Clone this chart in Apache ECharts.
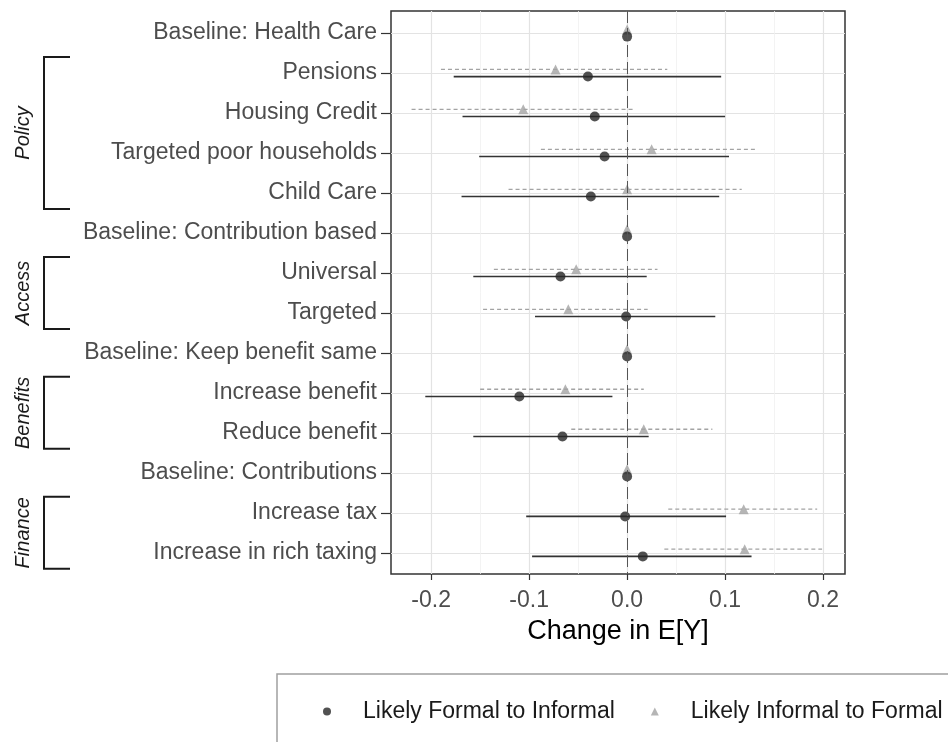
<!DOCTYPE html>
<html>
<head>
<meta charset="utf-8">
<script src="https://cdn.jsdelivr.net/npm/echarts@6/dist/echarts.min.js"></script>
<style>html,body{margin:0;padding:0;background:#fff;}#c{width:948px;height:742px;}</style>
</head>
<body>
<div id="c"></div>
<script>
// ---- data ----
const categories = [
  'Baseline: Health Care', 'Pensions', 'Housing Credit', 'Targeted poor households', 'Child Care',
  'Baseline: Contribution based', 'Universal', 'Targeted',
  'Baseline: Keep benefit same', 'Increase benefit', 'Reduce benefit',
  'Baseline: Contributions', 'Increase tax', 'Increase in rich taxing'
];
const formalEst = [0, -0.040, -0.033, -0.023, -0.037, 0, -0.068, -0.001, 0, -0.110, -0.066, 0, -0.002, 0.016];
const formalLo  = [0, -0.177, -0.168, -0.151, -0.169, 0, -0.157, -0.094, 0, -0.206, -0.157, 0, -0.103, -0.097];
const formalHi  = [0, 0.096, 0.100, 0.104, 0.094, 0, 0.020, 0.090, 0, -0.015, 0.022, 0, 0.101, 0.127];
const informalEst = [0, -0.073, -0.106, 0.025, 0.000, 0, -0.052, -0.060, 0, -0.063, 0.017, 0, 0.119, 0.120];
const informalLo  = [0, -0.190, -0.220, -0.088, -0.121, 0, -0.136, -0.147, 0, -0.150, -0.057, 0, 0.042, 0.038];
const informalHi  = [0, 0.041, 0.006, 0.133, 0.117, 0, 0.031, 0.021, 0, 0.017, 0.087, 0, 0.194, 0.199];
const xTicks = [-0.2, -0.1, 0.0, 0.1, 0.2];
const xMinorTicks = [-0.15, -0.05, 0.05, 0.15];
const groups = [
  { label: 'Policy', first: 1, last: 4 },
  { label: 'Access', first: 6, last: 7 },
  { label: 'Benefits', first: 9, last: 10 },
  { label: 'Finance', first: 12, last: 13 }
];
const seriesNames = ['Likely Formal to Informal', 'Likely Informal to Formal'];
const dodge = 0.09;

// ---- chart ----
const chart = echarts.init(document.getElementById('c'), null, { renderer: 'canvas' });
const FONT = "'Liberation Sans', Arial, sans-serif";
const idx = categories.map((_, i) => i);

function barData(lo, hi, off) {
  return idx.map(i => [lo[i], hi[i], i + off]);
}
function ptData(est, off) {
  return idx.map(i => [est[i], i + off]);
}
function errRender(color, dash, width) {
  return function (params, api) {
    const p1 = api.coord([api.value(0), api.value(2)]);
    const p2 = api.coord([api.value(1), api.value(2)]);
    return {
      type: 'line',
      shape: { x1: p1[0], y1: p1[1], x2: p2[0], y2: p2[1] },
      style: { stroke: color, lineWidth: width, lineDash: dash }
    };
  };
}

const option = {
  animation: false,
  backgroundColor: '#ffffff',
  grid: { left: 391, right: 103, top: 11, bottom: 168, show: true, borderColor: '#333333', borderWidth: 1.5, backgroundColor: 'transparent' },
  xAxis: [{
    type: 'value', min: -0.241, max: 0.2224, position: 'bottom',
    name: 'Change in E[Y]', nameLocation: 'middle', nameGap: 44,
    nameTextStyle: { fontFamily: FONT, fontSize: 27, color: '#000000' },
    axisLine: { show: false, onZero: false },
    axisTick: { show: true, length: 6, customValues: xTicks, lineStyle: { color: '#333333', width: 1.2 } },
    axisLabel: { customValues: xTicks, margin: 15, fontFamily: FONT, fontSize: 23, color: '#4d4d4d',
      formatter: v => Number(v).toFixed(1) },
    splitLine: { show: true, lineStyle: { color: '#e3e3e3', width: 1.2 } }
  }, {
    type: 'value', min: -0.241, max: 0.2224, position: 'bottom',
    axisLine: { show: false, onZero: false },
    axisTick: { show: false, customValues: xMinorTicks },
    axisLabel: { show: false, customValues: xMinorTicks },
    splitLine: { show: true, lineStyle: { color: '#f0f0f0', width: 0.8 } }
  }],
  yAxis: {
    type: 'value', inverse: true, min: -0.55, max: 13.53, position: 'left',
    axisLine: { show: false, onZero: false },
    axisTick: { show: true, length: 10, customValues: idx, lineStyle: { color: '#333333', width: 1.2 } },
    axisLabel: { customValues: idx, margin: 14, fontFamily: FONT, fontSize: 23, color: '#4d4d4d',
      formatter: v => categories[Math.round(v)] },
    splitLine: { show: true, lineStyle: { color: '#e3e3e3', width: 1.2 } }
  },
  legend: {
    left: 277, top: 674, width: 640,
    orient: 'horizontal',
    padding: [26, 40, 60, 46],
    borderColor: '#a0a0a0', borderWidth: 1.5,
    itemWidth: 8, itemHeight: 8, itemGap: 36,
    symbolKeepAspect: true,
    selectedMode: false,
    textStyle: { fontFamily: FONT, fontSize: 23, color: '#1a1a1a', padding: [0, 0, 0, 27] },
    data: [{ name: seriesNames[0], icon: 'circle' }, { name: seriesNames[1], icon: 'triangle' }]
  },
  series: [
    {
      type: 'custom', name: seriesNames[1] + ' CI', xAxisIndex: 0,
      renderItem: errRender('#a3a3a3', [4, 3], 1.3),
      encode: { x: [0, 1], y: 2 },
      data: barData(informalLo, informalHi, -dodge),
      z: 2
    },
    {
      type: 'custom', name: seriesNames[0] + ' CI', xAxisIndex: 0,
      renderItem: errRender('#333333', null, 1.6),
      encode: { x: [0, 1], y: 2 },
      data: barData(formalLo, formalHi, dodge),
      z: 2,
      markLine: {
        silent: true, symbol: 'none', label: { show: false },
        lineStyle: { color: '#555555', width: 1, type: [12, 5] },
        data: [{ xAxis: 0 }]
      }
    },
    {
      type: 'scatter', name: seriesNames[1], symbol: 'triangle', symbolSize: 10,
      itemStyle: { color: '#a3a3a3' },
      data: ptData(informalEst, -dodge), z: 3
    },
    {
      type: 'scatter', name: seriesNames[0], symbol: 'circle', symbolSize: 10,
      itemStyle: { color: '#262626' },
      data: ptData(formalEst, dodge), z: 4
    }
  ]
};
chart.setOption(option);

// group brackets and labels, positioned via the y axis scale
const graphics = [];
groups.forEach(g => {
  const yTop = chart.convertToPixel({ yAxisIndex: 0 }, g.first - 0.4);
  const yBot = chart.convertToPixel({ yAxisIndex: 0 }, g.last + 0.4);
  graphics.push({
    type: 'polyline', silent: true,
    shape: { points: [[70, yTop], [44, yTop], [44, yBot], [70, yBot]] },
    style: { stroke: '#1a1a1a', lineWidth: 2, fill: null }
  });
  graphics.push({
    type: 'text', silent: true,
    x: 23, y: (yTop + yBot) / 2, rotation: Math.PI / 2,
    style: { text: g.label, fontFamily: FONT, fontSize: 20, fontStyle: 'italic', fill: '#1a1a1a',
      align: 'center', verticalAlign: 'middle' }
  });
});
chart.setOption({ graphic: graphics });
</script>
</body>
</html>
